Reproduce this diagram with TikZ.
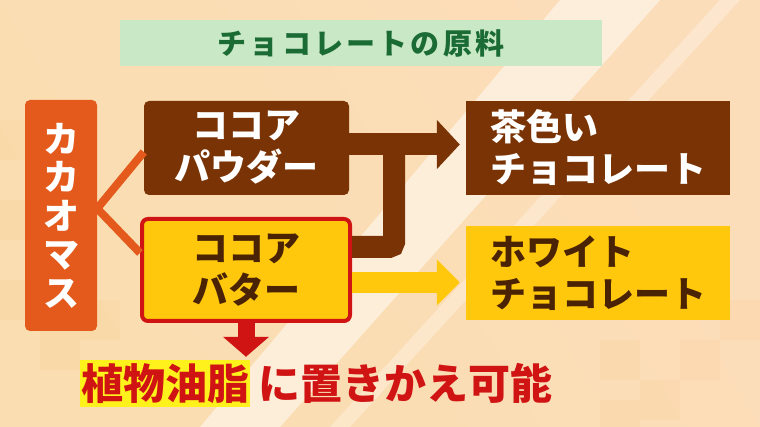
\documentclass[tikz,border=0pt]{standalone}
\usepackage{fontspec}
\newfontfamily\jp{Noto Sans CJK JP}
\usetikzlibrary{arrows.meta}

\definecolor{massorange}{HTML}{E35A1C}
\definecolor{cocoabrown}{HTML}{7A3304}
\definecolor{butteryellow}{HTML}{FFC80C}
\definecolor{framered}{HTML}{D01414}
\definecolor{darktext}{HTML}{4A2204}
\definecolor{titlegreen}{HTML}{C9E8C6}
\definecolor{titletext}{HTML}{1B6B35}
\definecolor{markyellow}{HTML}{FFF21C}
\definecolor{bgleft}{HTML}{FADDB0}
\definecolor{bgright}{HTML}{FCDDBA}
\definecolor{bgmid}{HTML}{FFF8EA}

\tikzset{
    bigfont/.style={font=\jp\bfseries\fontsize{36}{42}\selectfont},
    massbox/.style={bigfont, fill=massorange, text=white, rounded corners=5pt,
        minimum width=72, minimum height=231, align=center,
        font=\jp\bfseries\fontsize{36}{38.5}\selectfont},
    powderbox/.style={bigfont, fill=cocoabrown, text=white, rounded corners=5pt,
        minimum width=205, minimum height=94, align=center},
    butterbox/.style={bigfont, fill=butteryellow, draw=framered, line width=4pt,
        rounded corners=6pt, text=darktext, minimum width=208, minimum height=102,
        align=center},
    productbox/.style={bigfont, minimum width=264, minimum height=94,
        text width=216, inner xsep=24, align=left},
    titlebar/.style={fill=titlegreen, text=titletext, minimum width=482, minimum height=46,
        font=\jp\bfseries\fontsize{29}{32}\selectfont\addfontfeature{LetterSpace=11}},
    bottomtext/.style={text=framered, inner xsep=0, inner ysep=0,
        font=\jp\bfseries\fontsize{42}{46}\selectfont},
    feed/.style={massorange, line width=8pt},
    cocoabar/.style={cocoabrown, line width=22pt},
    cocoaarrow/.style={cocoabar, -{Triangle[length=23pt,width=48pt]}, shorten >=6pt},
    butterarrow/.style={butteryellow, line width=21pt,
        -{Triangle[length=23pt,width=45pt]}, shorten >=6pt},
    downarrow/.style={framered, line width=17pt,
        -{Triangle[length=20pt,width=45pt]}, shorten >=3pt}
}

\begin{document}
\begin{tikzpicture}[x=1pt, y=-1pt]
    \useasboundingbox (0,0) rectangle (760,427);

    % background
    \shade[left color=bgleft, middle color=bgmid, right color=bgright, shading angle=120]
        (0,0) rectangle (760,427);
    \fill[white, opacity=0.5] (200,427) -- (560,0) -- (660,0) -- (280,427) -- cycle;
    \fill[white, opacity=0.3] (330,427) -- (720,0) -- (740,0) -- (350,427) -- cycle;
    \foreach \x/\y in {0/120, 40/160, 0/200, 40/240, 0/280, 80/300, 40/330,
                       600/340, 640/380, 680/340, 720/300, 600/400}
        \fill[orange, opacity=0.04] (\x,\y) rectangle ++(40,40);

    \node[titlebar] (title) at (361,43) {チョコレートの原料};

    \node[massbox] (mass) at (61,215.5) {カ\\カ\\オ\\マ\\ス};
    \node[powderbox] (powder) at (246.5,148) {ココア\\パウダー};
    \node[butterbox] (butter) at (246,270) {ココア\\バター};
    \node[productbox, fill=cocoabrown, text=white] (brownchoco) at (598,148)
        {茶色い\\チョコレート};
    \node[productbox, fill=butteryellow, text=darktext] (whitechoco) at (598,273.5)
        {ホワイト\\チョコレート};

    \node[bottomtext, fill=markyellow, minimum width=170, minimum height=47]
        (oil) at (165,383.5) {植物油脂};
    \node[bottomtext, anchor=west] (swap) at ([xshift=8pt]oil.east) {に置きかえ可能};

    % connectors
    \coordinate (fork) at ([yshift=7pt]mass.east);
    \coordinate (merge) at (394,144.5);
    \draw[feed] (fork) -- ([yshift=-4pt]powder.west);
    \draw[feed] (fork) -- ([yshift=17pt]butter.west);

    \draw[cocoabar, rounded corners=5pt] ([yshift=23pt]butter.east) -| (merge);
    \draw[cocoaarrow] ([yshift=3.5pt]powder.east) -- ([yshift=3.5pt]powder.east -| brownchoco.west);
    \draw[butterarrow] ([yshift=-12.5pt]butter.east) -- ([yshift=-12.5pt]butter.east -| whitechoco.west);
    \draw[downarrow] (butter.south) -- (butter.south |- oil.north);
\end{tikzpicture}
\end{document}
